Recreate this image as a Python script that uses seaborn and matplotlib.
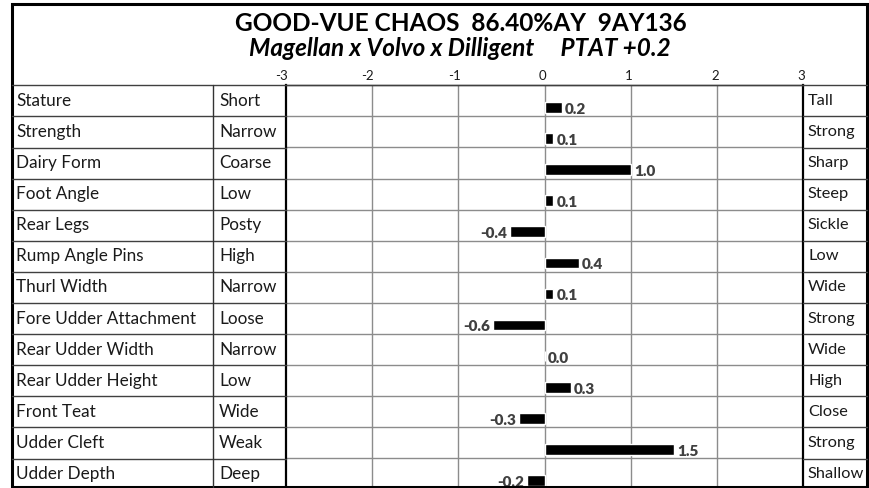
import matplotlib
matplotlib.use("Agg")
import matplotlib.pyplot as plt
from matplotlib.lines import Line2D
from matplotlib.patches import Rectangle
from matplotlib.transforms import ScaledTranslation
import seaborn as sns
import pandas as pd

# ---------------- data ----------------
title = "GOOD-VUE CHAOS  86.40%AY  9AY136"
subtitle = "Magellan x Volvo x Dilligent     PTAT +0.2"
traits = ["Stature", "Strength", "Dairy Form", "Foot Angle", "Rear Legs",
          "Rump Angle Pins", "Thurl Width", "Fore Udder Attachment",
          "Rear Udder Width", "Rear Udder Height", "Front Teat",
          "Udder Cleft", "Udder Depth"]
low_labels = ["Short", "Narrow", "Coarse", "Low", "Posty", "High", "Narrow",
              "Loose", "Narrow", "Low", "Wide", "Weak", "Deep"]
high_labels = ["Tall", "Strong", "Sharp", "Steep", "Sickle", "Low", "Wide",
               "Strong", "Wide", "High", "Close", "Strong", "Shallow"]
values = [0.2, 0.1, 1.0, 0.1, -0.4, 0.4, 0.1, -0.6, 0.0, 0.3, -0.3, 1.5, -0.2]
ticks = [-3, -2, -1, 0, 1, 2, 3]
tick_labels = ["-3", "-2", "-1", "0", "1", "2", "3"]

# ---------------- style ----------------
sns.set_style("white")
plt.rcParams["font.family"] = ["Lato", "DejaVu Sans"]

W, H = 869, 488
fig = plt.figure(figsize=(W / 100, H / 100), dpi=100)


def fx(px):
    return px / W


def fy(py):
    return 1 - py / H


TOP = 85.3
RH = 31.1
N = len(traits)
X_L, X_C1, X_C2, X_C3, X_R = 12, 213, 286, 803.3, 867
BOT = 487

TEXT_C = "#1a1a1a"
LINE_C = "#404040"
GRID_C = "#8c8c8c"

ax = fig.add_axes([fx(X_C2), fy(TOP + N * RH), fx(X_C3) - fx(X_C2), N * RH / H])
df = pd.DataFrame({"trait": traits, "value": values})
sns.barplot(data=df, x="value", y="trait", order=traits, orient="h",
            color="black", width=0.34, ax=ax, saturation=1)
OFF = 0.21
ax.set_xlim(-3, 3)
ax.set_ylim(N - 0.5 - OFF, -0.5 - OFF)
ax.set_xlabel("")
ax.set_ylabel("")
ax.set_yticks([])

for v in ticks[1:-1]:
    ax.axvline(v, color=GRID_C, lw=1.0, zorder=0)
for k in range(1, N):
    ax.axhline(k - 0.5 - OFF, color=GRID_C, lw=1.0, zorder=0)

for s in ["left", "right"]:
    ax.spines[s].set_color("black")
    ax.spines[s].set_linewidth(1.6)
ax.spines["top"].set_color(LINE_C)
ax.spines["top"].set_linewidth(1.0)
ax.spines["bottom"].set_visible(False)

ax.xaxis.tick_top()
ax.set_xticks(ticks)
ax.set_xticklabels(tick_labels, ha="right", fontsize=9.5, color=TEXT_C)
ax.tick_params(axis="x", length=0, pad=2.5)
for lab in ax.get_xticklabels():
    lab.set_transform(lab.get_transform() + ScaledTranslation(2 / 100, 0, fig.dpi_scale_trans))

# value labels
for i, v in enumerate(values):
    if v >= 0:
        ax.annotate(f"{v:.1f}", xy=(v, i + 0.06), xytext=(3, 0), textcoords="offset pixels",
                    ha="left", va="center", fontsize=11, fontweight="heavy", color="#404040")
    else:
        ax.annotate(f"{v:.1f}", xy=(v, i + 0.06), xytext=(-3, 0), textcoords="offset pixels",
                    ha="right", va="center", fontsize=11, fontweight="heavy", color="#404040")

# table lines
def hline(x0, x1, y, c=LINE_C, lw=1.0):
    fig.add_artist(Line2D([fx(x0), fx(x1)], [fy(y), fy(y)], color=c, lw=lw,
                          transform=fig.transFigure))


def vline(x, y0, y1, c=LINE_C, lw=1.0):
    fig.add_artist(Line2D([fx(x), fx(x)], [fy(y0), fy(y1)], color=c, lw=lw,
                          transform=fig.transFigure))


hline(X_L, X_R, TOP)
for k in range(1, N):
    y = TOP + k * RH
    hline(X_L, X_C2, y)
    hline(X_C3, X_R, y)
vline(X_C1, TOP, BOT, c="#333333", lw=1.0)

# outer border
fig.add_artist(Rectangle((fx(X_L - 0.5), fy(BOT)), fx(X_R) - fx(X_L - 0.5), fy(3.5) - fy(BOT),
                         fill=False, ec="black", lw=2.2, transform=fig.transFigure))

FS = 12.3
FS_HIGH = 11.8
for i in range(N):
    yc = TOP + (i + 0.5) * RH
    fig.text(fx(16), fy(yc), traits[i], ha="left", va="center", fontsize=FS, color=TEXT_C)
    fig.text(fx(219), fy(yc), low_labels[i], ha="left", va="center", fontsize=FS, color=TEXT_C)
    fig.text(fx(808), fy(yc), high_labels[i], ha="left", va="center", fontsize=FS_HIGH, color=TEXT_C)

fig.text(fx(461), fy(30.7), title, ha="center", va="baseline", fontsize=17.6,
         fontweight="bold", color="black")
fig.text(fx(460), fy(56), subtitle, ha="center", va="baseline", fontsize=17.5,
         fontweight="bold", fontstyle="italic", color="black")

fig.savefig("out.png", dpi=100, facecolor="white")
